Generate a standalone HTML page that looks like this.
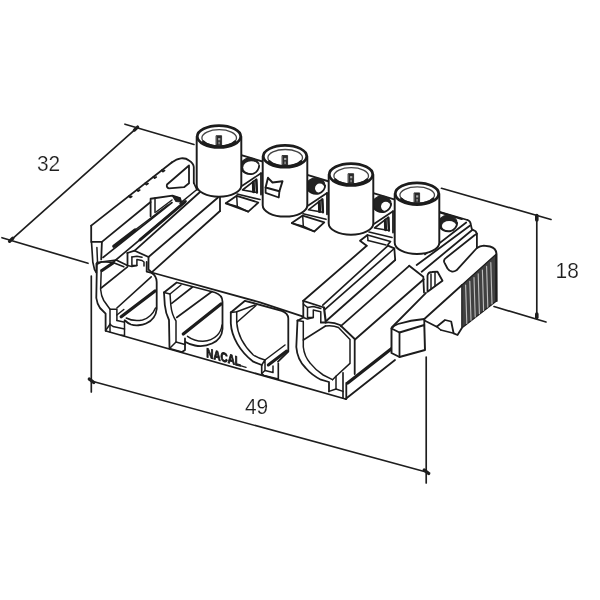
<!DOCTYPE html>
<html><head><meta charset="utf-8"><title>Connector drawing</title>
<style>
html,body{margin:0;padding:0;background:#fff;}
body{width:600px;height:600px;overflow:hidden;font-family:"Liberation Sans",sans-serif;}
svg{display:block;filter:grayscale(1);}
text{font-family:"Liberation Sans",sans-serif;fill:#1e1e1e;}
.dim{stroke:#fff;stroke-width:0.2px;opacity:0.999;}
</style></head><body>
<svg width="600" height="600" viewBox="0 0 600 600" stroke-linecap="round" stroke-linejoin="round">
<rect width="600" height="600" fill="#fff"/>
<path d="M11.2,239.8 L136.0,128.6" stroke="#1e1e1e" stroke-width="1.68" fill="none" />
<path d="M125.0,124.2 L194.0,144.5" stroke="#1e1e1e" stroke-width="1.68" fill="none" />
<path d="M2.0,237.7 L88.0,263.3" stroke="#1e1e1e" stroke-width="1.68" fill="none" />
<path d="M91.3,276.0 L91.3,392.0" stroke="#1e1e1e" stroke-width="1.68" fill="none" />
<path d="M91.3,381.0 L426.2,472.0" stroke="#1e1e1e" stroke-width="1.68" fill="none" />
<path d="M426.2,357.0 L426.2,483.0" stroke="#1e1e1e" stroke-width="1.68" fill="none" />
<path d="M536.8,216.0 L536.8,318.0" stroke="#1e1e1e" stroke-width="1.68" fill="none" />
<path d="M441.5,188.3 L551.0,219.5" stroke="#1e1e1e" stroke-width="1.68" fill="none" />
<path d="M494.0,306.5 L546.0,322.0" stroke="#1e1e1e" stroke-width="1.68" fill="none" />
<path d="M9.6,241.3 L12.8,238.3" stroke="#1e1e1e" stroke-width="3.30" fill="none" />
<path d="M134.4,130.1 L137.6,127.1" stroke="#1e1e1e" stroke-width="3.30" fill="none" />
<path d="M89.3,379.0 L93.8,382.5" stroke="#1e1e1e" stroke-width="3.30" fill="none" />
<path d="M424.2,470.0 L428.7,473.5" stroke="#1e1e1e" stroke-width="3.30" fill="none" />
<path d="M536.8,215.5 L536.8,220.0" stroke="#1e1e1e" stroke-width="3.60" fill="none" />
<path d="M536.8,317.5 L536.8,314.0" stroke="#1e1e1e" stroke-width="3.60" fill="none" />
<path d="M151.7,272.5 L260.0,302.3 L303.3,316.7" stroke="#1c1c1c" stroke-width="1.80" fill="none" />
<path d="M106.0,331.0 L345.5,399.0" stroke="#1c1c1c" stroke-width="1.80" fill="none" />
<path d="M96.9,264.3 L96.3,298 C97,303 98.5,306 100,308 L105.6,313.6 L105.6,330.8" stroke="#1c1c1c" stroke-width="1.80" fill="none" />
<path d="M101.25,270 L100.6,289.3 C101,294 102,297.5 103.75,300.5 L110,309.3 L110,324.3" stroke="#1c1c1c" stroke-width="1.50" fill="none" />
<path d="M96.9,264.3 L101.9,261.8 L113.0,262.4 L123.8,266.8" stroke="#1c1c1c" stroke-width="1.65" fill="none" />
<path d="M110.0,309.3 L116.9,309.3 L116.9,320.5" stroke="#1c1c1c" stroke-width="1.50" fill="none" />
<path d="M110.0,324.3 L113.0,326.5 L124.5,329.0 L124.5,320.3" stroke="#1c1c1c" stroke-width="1.50" fill="none" />
<path d="M124.5,329.0 L124.5,335.5 L121.0,335.2" stroke="#1c1c1c" stroke-width="1.50" fill="none" />
<path d="M110.0,324.3 L110.0,332.0" stroke="#1c1c1c" stroke-width="1.50" fill="none" />
<path d="M105.6,330.5 L110.0,324.3" stroke="#1c1c1c" stroke-width="1.50" fill="none" />
<path d="M116.9,320.5 L123.8,322.0" stroke="#1c1c1c" stroke-width="1.50" fill="none" />
<path d="M146.7,262 L146.7,271.7 L151.7,273 C155,275 156.7,278 156.7,282 L156.7,309 C156,316 152,321 146,323.5 C142,325.5 135,325.8 131,324.5 C128.5,323.5 126.5,322 125,320.5" stroke="#1c1c1c" stroke-width="1.80" fill="none" />
<path d="M126.25,318 C130,320 136,321 142.5,319.9 C148,318.5 152.5,315 155.5,308" stroke="#1c1c1c" stroke-width="1.50" fill="none" />
<path d="M101.2,288.0 L127.5,266.8" stroke="#1c1c1c" stroke-width="1.65" fill="none" />
<path d="M101.9,270.5 L113.0,263.0" stroke="#1c1c1c" stroke-width="3.30" fill="none" />
<path d="M116.9,308.0 L151.2,276.8" stroke="#1c1c1c" stroke-width="1.65" fill="none" />
<path d="M121.2,316.8 L155.0,291.0" stroke="#1c1c1c" stroke-width="3.30" fill="none" />
<path d="M116.9,315.0 L123.8,309.5" stroke="#1c1c1c" stroke-width="1.50" fill="none" />
<path d="M164,292.5 L176.7,282.5 L215,292.5 C219.5,294 222.5,297 222.5,301.7 L222.5,329 C222,336 218,341 212,343.5 C207,345.8 200,346.5 195,345.5 C191,344.8 188,343.5 185.5,342" stroke="#1c1c1c" stroke-width="1.80" fill="none" />
<path d="M164,292.5 L164.8,305 C165.5,312 167.5,317 169,320 L169.5,348.5 L182,352 L185,350 L185,338.5" stroke="#1c1c1c" stroke-width="1.80" fill="none" />
<path d="M170,294 L170.8,305 C171.5,312 174,318 176,321 L176,342" stroke="#1c1c1c" stroke-width="1.50" fill="none" />
<path d="M164.0,292.5 L170.0,294.0 L181.0,285.0" stroke="#1c1c1c" stroke-width="1.50" fill="none" />
<path d="M169.5,348.5 L176.0,342.0 L185.0,344.5" stroke="#1c1c1c" stroke-width="1.50" fill="none" />
<path d="M187.5,336.3 C192,339.5 198,341.3 203,341.2 C209,341 214,338.5 217,335.5 C220,332.5 221.5,329 222,325" stroke="#1c1c1c" stroke-width="1.50" fill="none" />
<path d="M171.7,303.3 L192.5,287.0" stroke="#1c1c1c" stroke-width="1.65" fill="none" />
<path d="M176.7,317.5 L212.0,291.5" stroke="#1c1c1c" stroke-width="1.65" fill="none" />
<path d="M183.3,334.0 L221.0,304.0" stroke="#1c1c1c" stroke-width="3.30" fill="none" />
<path d="M230.8,312.5 L245,300.8 L281.7,310.8 C286,312.5 288.3,315 288.3,318.3 L288.3,351.7 L278,361.7" stroke="#1c1c1c" stroke-width="1.80" fill="none" />
<path d="M230.8,312.5 L230.8,323.3 C231.5,337 240,351.7 253.3,361.7 L261.7,365" stroke="#1c1c1c" stroke-width="1.80" fill="none" />
<path d="M236.7,311.7 L236.7,322.5 C237.5,334 244,346 253.3,355 C257,357.5 261,359 265,360" stroke="#1c1c1c" stroke-width="1.50" fill="none" />
<path d="M230.8,312.5 L236.7,311.7 L255.0,305.0" stroke="#1c1c1c" stroke-width="1.50" fill="none" />
<path d="M236.7,322.5 L256.0,305.5" stroke="#1c1c1c" stroke-width="1.50" fill="none" />
<path d="M265.0,360.0 L285.0,345.0" stroke="#1c1c1c" stroke-width="1.50" fill="none" />
<path d="M268.3,365.0 L286.7,351.0" stroke="#1c1c1c" stroke-width="3.00" fill="none" />
<path d="M261.7,365.0 L261.7,373.5 L264.0,375.5 L278.3,379.0 L278.3,363.3" stroke="#1c1c1c" stroke-width="1.65" fill="none" />
<path d="M261.7,365.0 L265.0,360.0 L265.0,370.5 L273.0,372.5 L273.0,366.0" stroke="#1c1c1c" stroke-width="1.50" fill="none" />
<path d="M261.7,373.5 L265.0,370.5" stroke="#1c1c1c" stroke-width="1.50" fill="none" />
<path d="M297.5,320.5 L296.3,347 C297,356 300.5,363 305.7,368 C310,373 315.5,377 320.9,379.7 L329,382 L329,391.4" stroke="#1c1c1c" stroke-width="1.80" fill="none" />
<path d="M303.3,321.4 L303.3,347 C304,353.5 306.5,359 310.4,363.4 C314,368 318.5,372 323.2,375 L332.5,379.7" stroke="#1c1c1c" stroke-width="1.50" fill="none" />
<path d="M297.5,320.8 L303.3,317.5 L303.3,300.8" stroke="#1c1c1c" stroke-width="1.80" fill="none" />
<path d="M297.5,320.5 L303.3,321.4" stroke="#1c1c1c" stroke-width="1.50" fill="none" />
<path d="M303.3,300.8 L366.7,245.8" stroke="#1c1c1c" stroke-width="1.80" fill="none" />
<path d="M303.3,300.8 L324.0,307.5" stroke="#1c1c1c" stroke-width="1.80" fill="none" />
<path d="M322.8,305.2 L388.0,245.6" stroke="#1c1c1c" stroke-width="1.65" fill="none" />
<path d="M325.0,309.4 L394.3,248.5" stroke="#1c1c1c" stroke-width="1.65" fill="none" />
<path d="M388.0,245.6 L394.3,248.3 L395.2,260.0" stroke="#1c1c1c" stroke-width="1.80" fill="none" />
<path d="M326.7,320.5 L395.2,260.0" stroke="#1c1c1c" stroke-width="1.80" fill="none" />
<path d="M324.0,307.5 L325.8,322.5" stroke="#1c1c1c" stroke-width="2.10" fill="none" />
<path d="M307.5,307.5 L307.5,317.5 L313.3,317.5 L313.3,310.0 L320.8,311.7 L320.8,322.5" stroke="#1c1c1c" stroke-width="1.50" fill="none" />
<path d="M303.3,317.5 L307.5,319.0 L313.3,317.5" stroke="#1c1c1c" stroke-width="1.50" fill="none" />
<path d="M303.3,304.0 L307.5,307.5 L313.3,306.5 L320.8,308.5" stroke="#1c1c1c" stroke-width="1.50" fill="none" />
<path d="M320.8,322.5 L325.8,322.5 C332,322 336,323 340,325 L354.7,339 L354.7,374" stroke="#1c1c1c" stroke-width="1.80" fill="none" />
<path d="M325.5,326 C331,325.3 335,326 338.5,327.5 L350,339.5 L350,363.4 L336,376.2 L332.5,379.7" stroke="#1c1c1c" stroke-width="1.50" fill="none" />
<path d="M340.8,326.2 L409.2,265.8" stroke="#1c1c1c" stroke-width="1.80" fill="none" />
<path d="M355.0,339.5 L423.8,279.3" stroke="#1c1c1c" stroke-width="1.80" fill="none" />
<path d="M409.2,265.8 L423.3,276.7 L424.0,292.5" stroke="#1c1c1c" stroke-width="1.80" fill="none" />
<path d="M347.7,383.0 L392.0,348.2" stroke="#1c1c1c" stroke-width="3.30" fill="none" />
<path d="M345.5,399.0 L395.0,360.0" stroke="#1c1c1c" stroke-width="1.80" fill="none" />
<path d="M346.3,383.0 L346.3,399.0" stroke="#1c1c1c" stroke-width="1.80" fill="none" />
<path d="M343.0,372.7 L343.0,398.0" stroke="#1c1c1c" stroke-width="1.65" fill="none" />
<path d="M336.0,376.2 L336.0,389.0 L343.0,391.4" stroke="#1c1c1c" stroke-width="1.50" fill="none" />
<path d="M329.0,391.4 L336.0,389.0" stroke="#1c1c1c" stroke-width="1.50" fill="none" />
<path d="M303.3,340.0 L325.5,326.0" stroke="#1c1c1c" stroke-width="1.50" fill="none" />
<path d="M391.5,328.5 L399.5,332.5 L424.3,325.0 L425.0,350.0 L399.5,357.0 L391.5,353.0 Z" stroke="#1c1c1c" stroke-width="1.95" fill="white" />
<path d="M399.5,332.5 L399.5,357.0" stroke="#1c1c1c" stroke-width="1.80" fill="none" />
<path d="M391.5,328.5 C393,326.5 395,325 398,324 C406,321.5 416,319.6 424.3,319" stroke="#1c1c1c" stroke-width="1.80" fill="none" />
<path d="M391.7,327.5 L426.0,292.8" stroke="#1c1c1c" stroke-width="1.80" fill="none" />
<path d="M424.3,325.0 L424.3,319.0 L462.0,285.0" stroke="#1c1c1c" stroke-width="1.80" fill="none" />
<path d="M424.5,320.5 L436.7,326.7 L445.0,320.0 L451.2,321.5 L453.6,333.3 L457.5,335.0 L461.7,328.3" stroke="#1c1c1c" stroke-width="1.80" fill="none" />
<path d="M440.8,330.0 L453.6,333.3" stroke="#1c1c1c" stroke-width="1.50" fill="none" />
<path d="M436.7,326.7 L440.8,330.0" stroke="#1c1c1c" stroke-width="1.50" fill="none" />
<path d="M427.5,291.7 L427.5,275.5 C428,273 430,272 432,272 L437.5,271.7 L442.5,280.8 Z" stroke="#1c1c1c" stroke-width="1.80" fill="none" />
<path d="M431.0,274.0 L431.0,289.0" stroke="#1c1c1c" stroke-width="1.50" fill="none" />
<path d="M435.0,272.5 L435.0,286.3" stroke="#1c1c1c" stroke-width="1.50" fill="none" />
<path d="M446.5,257.5 L474.5,235.2 L476.9,233.8 L476.9,248 L456.5,270.3 C453,272.5 449.5,271.5 447.5,268.5 L444.3,262.3 C443.3,260 444.5,258.7 446.5,257.5 Z" stroke="#1c1c1c" stroke-width="1.80" fill="none" />
<path d="M461.8,285 L495.8,254.5 L495.8,301.5 L461.8,328 Z" stroke="#1c1c1c" stroke-width="1.20" fill="#404040" />
<path d="M465.6,285.1 L466.8,323.5" stroke="#bdbdbd" stroke-width="1.12" fill="none" />
<path d="M469.8,281.3 L471.0,320.3" stroke="#bdbdbd" stroke-width="1.12" fill="none" />
<path d="M474.0,277.6 L475.2,317.0" stroke="#bdbdbd" stroke-width="1.12" fill="none" />
<path d="M478.2,273.8 L479.4,313.7" stroke="#bdbdbd" stroke-width="1.12" fill="none" />
<path d="M482.4,270.0 L483.6,310.4" stroke="#bdbdbd" stroke-width="1.12" fill="none" />
<path d="M486.6,266.3 L487.8,307.2" stroke="#bdbdbd" stroke-width="1.12" fill="none" />
<path d="M490.8,262.5 L492.0,303.9" stroke="#bdbdbd" stroke-width="1.12" fill="none" />
<path d="M476.9,248 C479,246.5 481.5,245.7 483.75,245.6 L490,246.5 C494,247.5 496.3,250 496.5,254 L496.7,301" stroke="#1c1c1c" stroke-width="1.95" fill="none" />
<path d="M439.4,211.9 L467.5,220.0" stroke="#1c1c1c" stroke-width="1.80" fill="none" />
<path d="M467.5,220 C469.5,220.8 470.5,222 470.6,223.75 L471.9,229.4 L475.6,231.25 L476.9,233.75" stroke="#1c1c1c" stroke-width="1.80" fill="none" />
<path d="M466.2,222.5 L425.0,254.4" stroke="#1c1c1c" stroke-width="1.80" fill="none" />
<path d="M469.8,225.8 L416.7,265.0" stroke="#1c1c1c" stroke-width="1.80" fill="none" />
<path d="M472.5,229.8 L421.7,271.7" stroke="#1c1c1c" stroke-width="1.80" fill="none" />
<path d="M439.3,212.3 L461.8,219.1" stroke="#1c1c1c" stroke-width="1.95" fill="none" />
<ellipse cx="447.8" cy="223.0" rx="9.3" ry="7.6" fill="#222" stroke="#222" stroke-width="1.2"/>
<ellipse cx="449.1" cy="226.0" rx="7.2" ry="5.0" fill="#fff" stroke="none"/>
<path d="M438.5,224.0 C439.8,230.0 445.8,232.0 450.8,231.0 C454.8,230.0 457.1,226.0 457.1,223.0" stroke="#1c1c1c" stroke-width="1.80" fill="none" />
<path d="M91.2,225.6 L171.7,162.5" stroke="#1c1c1c" stroke-width="1.80" fill="none" />
<path d="M128.9,196.1 L130.2,197.4 L131.7,196.4" stroke="#1c1c1c" stroke-width="1.80" fill="none" />
<path d="M136.9,189.8 L138.2,191.1 L139.7,190.1" stroke="#1c1c1c" stroke-width="1.80" fill="none" />
<path d="M145.2,183.3 L146.5,184.6 L148.0,183.6" stroke="#1c1c1c" stroke-width="1.80" fill="none" />
<path d="M153.4,176.8 L154.7,178.1 L156.2,177.1" stroke="#1c1c1c" stroke-width="1.80" fill="none" />
<path d="M161.7,170.3 L163.0,171.6 L164.5,170.6" stroke="#1c1c1c" stroke-width="1.80" fill="none" />
<path d="M171.7,162.5 C175,160 178,158.6 181,158.3 C184,158 187,158.8 189,160.5 C191.5,162 193.5,164 193.8,167 L193.8,183" stroke="#1c1c1c" stroke-width="1.80" fill="none" />
<path d="M189,165.5 L167,184.5 C166.3,186.5 167.2,188 169,188.3 L184,187.2 L189,183.3 Z" stroke="#1c1c1c" stroke-width="1.80" fill="none" />
<path d="M193.8,183.0 L197.0,190.0" stroke="#1c1c1c" stroke-width="1.65" fill="none" />
<path d="M91.2,225.6 L91.2,241.9 L101.9,241.9 L101.2,259.4" stroke="#1c1c1c" stroke-width="1.80" fill="none" />
<path d="M91.5,242 L92.8,262 L94.5,269.5 L96.3,272.5" stroke="#1c1c1c" stroke-width="1.65" fill="none" />
<path d="M96.3,263.5 L96.3,272.5" stroke="#1c1c1c" stroke-width="1.50" fill="none" />
<path d="M96.9,247.5 L97.5,262.0" stroke="#1c1c1c" stroke-width="1.50" fill="none" />
<path d="M96.9,262.5 L116.2,260.0 L127.5,265.6" stroke="#1c1c1c" stroke-width="1.65" fill="none" />
<path d="M101.9,241.9 L150.6,202.0" stroke="#1c1c1c" stroke-width="1.80" fill="none" />
<path d="M103.0,257.5 L172.0,202.5" stroke="#1c1c1c" stroke-width="1.65" fill="none" />
<path d="M113.8,246.2 L135.0,230.0" stroke="#1c1c1c" stroke-width="3.30" fill="none" />
<path d="M135.0,230.0 L168.0,205.0" stroke="#1c1c1c" stroke-width="1.50" fill="none" />
<path d="M114.0,261.5 L186.0,201.0" stroke="#1c1c1c" stroke-width="1.65" fill="none" />
<path d="M140.0,239.8 L185.0,201.8" stroke="#1c1c1c" stroke-width="3.00" fill="none" />
<path d="M134.7,250.7 L200.0,192.0" stroke="#1c1c1c" stroke-width="1.80" fill="none" />
<path d="M148.5,257.0 L218.0,197.5" stroke="#1c1c1c" stroke-width="1.80" fill="none" />
<path d="M151.7,272.3 L220.0,211.0" stroke="#1c1c1c" stroke-width="1.80" fill="none" />
<path d="M220.0,196.7 L220.0,211.0" stroke="#1c1c1c" stroke-width="1.80" fill="none" />
<path d="M150.6,216.3 L150.6,198.75 L172.5,195.6 L180,198 L181,201.5" stroke="#1c1c1c" stroke-width="1.80" fill="none" />
<path d="M155.0,198.0 L155.0,212.5" stroke="#1c1c1c" stroke-width="1.50" fill="none" />
<path d="M172.0,200.0 L156.0,212.0" stroke="#1c1c1c" stroke-width="1.50" fill="none" />
<path d="M172.5,196 L180,198 L181,202 L176,201.5 Z" stroke="#1c1c1c" stroke-width="1.20" fill="#222" />
<path d="M127.3,253.0 L134.7,250.7 L148.5,257.0 L148.5,269.5 L151.7,272.5" stroke="#1c1c1c" stroke-width="1.80" fill="none" />
<path d="M127.5,253.0 L127.5,265.6" stroke="#1c1c1c" stroke-width="1.80" fill="none" />
<path d="M131.9,256.9 L131.9,265.6 L136.9,265.6 L136.9,259.4 L142.0,260.5 L144.0,262.0 L144.0,266.0" stroke="#1c1c1c" stroke-width="1.50" fill="none" />
<path d="M127.5,265.6 L131.9,266.5 L136.9,265.6" stroke="#1c1c1c" stroke-width="1.50" fill="none" />
<path d="M131.9,256.9 L136.9,256.2 L142.0,257.3" stroke="#1c1c1c" stroke-width="1.50" fill="none" />
<path d="M197.5,189.0 L180.0,203.3" stroke="#1c1c1c" stroke-width="1.50" fill="none" />
<path d="M241.3,155.1 L263.8,161.9" stroke="#1c1c1c" stroke-width="1.95" fill="none" />
<ellipse cx="249.8" cy="165.8" rx="9.3" ry="7.6" fill="#222" stroke="#222" stroke-width="1.2"/>
<ellipse cx="251.20000000000002" cy="167.4" rx="8.0" ry="6.2" fill="#fff" stroke="none"/>
<path d="M240.5,166.8 C241.8,172.8 247.8,174.8 252.8,173.8 C256.8,172.8 259.1,168.8 259.1,165.8" stroke="#1c1c1c" stroke-width="1.80" fill="none" />
<path d="M241.5,186.2 L261.0,173.2" stroke="#1c1c1c" stroke-width="1.65" fill="none" />
<path d="M242.5,190.0 L256.2,179.4 L256.9,192.5 Z" stroke="#1c1c1c" stroke-width="1.65" fill="none" />
<path d="M253.3,182.0 L253.6,191.8" stroke="#1c1c1c" stroke-width="3.00" fill="none" />
<path d="M256.4,179.7 L256.9,192.5" stroke="#1c1c1c" stroke-width="2.40" fill="none" />
<path d="M261.0,173.2 L261.0,194.5" stroke="#1c1c1c" stroke-width="1.80" fill="none" />
<path d="M237.0,194.0 L260.0,199.5" stroke="#1c1c1c" stroke-width="1.65" fill="none" />
<path d="M225.8,203.3 L236.7,195.8 L258.3,202.5 L248.3,211.7 Z" stroke="#1c1c1c" stroke-width="1.80" fill="none" />
<path d="M236.7,195.8 L237.3,206.5" stroke="#1c1c1c" stroke-width="1.50" fill="none" />
<path d="M237.3,206.5 L248.3,211.7" stroke="#1c1c1c" stroke-width="1.50" fill="none" />
<path d="M225.8,203.3 L237.3,206.5" stroke="#1c1c1c" stroke-width="1.50" fill="none" />
<path d="M307.3,174.9 L329.8,181.7" stroke="#1c1c1c" stroke-width="1.95" fill="none" />
<ellipse cx="315.8" cy="185.60000000000002" rx="9.3" ry="7.6" fill="#222" stroke="#222" stroke-width="1.2"/>
<ellipse cx="319.8" cy="188.20000000000002" rx="4.8" ry="4.6" fill="#fff" stroke="none"/>
<path d="M306.5,186.60000000000002 C307.8,192.60000000000002 313.8,194.60000000000002 318.8,193.60000000000002 C322.8,192.60000000000002 325.1,188.60000000000002 325.1,185.60000000000002" stroke="#1c1c1c" stroke-width="1.80" fill="none" />
<path d="M307.5,206.0 L327.0,193.0" stroke="#1c1c1c" stroke-width="1.65" fill="none" />
<path d="M308.5,209.8 L322.2,199.2 L322.9,212.3 Z" stroke="#1c1c1c" stroke-width="1.65" fill="none" />
<path d="M319.3,201.8 L319.6,211.6" stroke="#1c1c1c" stroke-width="3.00" fill="none" />
<path d="M322.4,199.5 L322.9,212.3" stroke="#1c1c1c" stroke-width="2.40" fill="none" />
<path d="M327.0,193.0 L327.0,214.3" stroke="#1c1c1c" stroke-width="1.80" fill="none" />
<path d="M303.0,213.8 L326.0,219.3" stroke="#1c1c1c" stroke-width="1.65" fill="none" />
<path d="M291.8,223.1 L302.7,215.6 L324.3,222.3 L314.3,231.5 Z" stroke="#1c1c1c" stroke-width="1.80" fill="none" />
<path d="M302.7,215.6 L303.3,226.3" stroke="#1c1c1c" stroke-width="1.50" fill="none" />
<path d="M303.3,226.3 L314.3,231.5" stroke="#1c1c1c" stroke-width="1.50" fill="none" />
<path d="M291.8,223.1 L303.3,226.3" stroke="#1c1c1c" stroke-width="1.50" fill="none" />
<path d="M373.3,193.1 L395.8,199.9" stroke="#1c1c1c" stroke-width="1.95" fill="none" />
<ellipse cx="381.8" cy="203.8" rx="9.3" ry="7.6" fill="#222" stroke="#222" stroke-width="1.2"/>
<ellipse cx="385.8" cy="206.4" rx="4.8" ry="4.6" fill="#fff" stroke="none"/>
<path d="M372.5,204.8 C373.8,210.8 379.8,212.8 384.8,211.8 C388.8,210.8 391.1,206.8 391.1,203.8" stroke="#1c1c1c" stroke-width="1.80" fill="none" />
<path d="M373.5,224.2 L393.0,211.2" stroke="#1c1c1c" stroke-width="1.65" fill="none" />
<path d="M374.5,228.0 L388.2,217.4 L388.9,230.5 Z" stroke="#1c1c1c" stroke-width="1.65" fill="none" />
<path d="M385.3,220.0 L385.6,229.8" stroke="#1c1c1c" stroke-width="3.00" fill="none" />
<path d="M388.4,217.7 L388.9,230.5" stroke="#1c1c1c" stroke-width="2.40" fill="none" />
<path d="M393.0,211.2 L393.0,232.5" stroke="#1c1c1c" stroke-width="1.80" fill="none" />
<path d="M369.0,232.0 L392.0,237.5" stroke="#1c1c1c" stroke-width="1.65" fill="none" />
<path d="M366.7,245.8 L360.0,240.8 L367.5,235.0 L390.5,241.5 L388.0,244.5" stroke="#1c1c1c" stroke-width="1.80" fill="none" />
<path d="M367.5,235.0 L368.0,240.5" stroke="#1c1c1c" stroke-width="1.50" fill="none" />
<path d="M368.0,240.5 L386.0,245.0" stroke="#1c1c1c" stroke-width="1.50" fill="none" />
<path d="M196.7,136.5 L196.7,185.5 A22.3,11.3 0 0 0 241.3,185.5 L241.3,136.5 Z" stroke="#1c1c1c" stroke-width="1.95" fill="white" />
<ellipse cx="219" cy="136.5" rx="21.7" ry="10.9" fill="white" stroke="#1c1c1c" stroke-width="2.7"/>
<ellipse cx="219.2" cy="137.9" rx="17.3" ry="8.200000000000001" fill="white" stroke="#444" stroke-width="1.3"/>
<path d="M203.4,141.7 A17.3,8.200000000000001 0 0 0 235,141.7" fill="none" stroke="#1c1c1c" stroke-width="2.6"/>
<rect x="216.4" y="135.7" width="5.2" height="9.4" fill="#2a2a2a" stroke="#222" stroke-width="0.8"/>
<rect x="218.1" y="138.1" width="2.2" height="2.2" fill="#aaa"/>
<rect x="218.3" y="141.7" width="1.6" height="2.6" fill="#888"/>
<path d="M262.7,156.3 L262.7,205.3 A22.3,11.3 0 0 0 307.3,205.3 L307.3,156.3 Z" stroke="#1c1c1c" stroke-width="1.95" fill="white" />
<ellipse cx="285" cy="156.3" rx="21.7" ry="10.9" fill="white" stroke="#1c1c1c" stroke-width="2.7"/>
<ellipse cx="285.2" cy="157.70000000000002" rx="17.3" ry="8.200000000000001" fill="white" stroke="#444" stroke-width="1.3"/>
<path d="M269.4,161.5 A17.3,8.200000000000001 0 0 0 301,161.5" fill="none" stroke="#1c1c1c" stroke-width="2.6"/>
<rect x="282.4" y="155.5" width="5.2" height="9.4" fill="#2a2a2a" stroke="#222" stroke-width="0.8"/>
<rect x="284.1" y="157.9" width="2.2" height="2.2" fill="#aaa"/>
<rect x="284.3" y="161.5" width="1.6" height="2.6" fill="#888"/>
<path d="M328.7,174.5 L328.7,223.5 A22.3,11.3 0 0 0 373.3,223.5 L373.3,174.5 Z" stroke="#1c1c1c" stroke-width="1.95" fill="white" />
<ellipse cx="351" cy="174.5" rx="21.7" ry="10.9" fill="white" stroke="#1c1c1c" stroke-width="2.7"/>
<ellipse cx="351.2" cy="175.9" rx="17.3" ry="8.200000000000001" fill="white" stroke="#444" stroke-width="1.3"/>
<path d="M335.4,179.7 A17.3,8.200000000000001 0 0 0 367,179.7" fill="none" stroke="#1c1c1c" stroke-width="2.6"/>
<rect x="348.4" y="173.7" width="5.2" height="9.4" fill="#2a2a2a" stroke="#222" stroke-width="0.8"/>
<rect x="350.1" y="176.1" width="2.2" height="2.2" fill="#aaa"/>
<rect x="350.3" y="179.7" width="1.6" height="2.6" fill="#888"/>
<path d="M394.7,193.7 L394.7,242.7 A22.3,11.3 0 0 0 439.3,242.7 L439.3,193.7 Z" stroke="#1c1c1c" stroke-width="1.95" fill="white" />
<ellipse cx="417" cy="193.7" rx="21.7" ry="10.9" fill="white" stroke="#1c1c1c" stroke-width="2.7"/>
<ellipse cx="417.2" cy="195.1" rx="17.3" ry="8.200000000000001" fill="white" stroke="#444" stroke-width="1.3"/>
<path d="M401.4,198.89999999999998 A17.3,8.200000000000001 0 0 0 433,198.89999999999998" fill="none" stroke="#1c1c1c" stroke-width="2.6"/>
<rect x="414.4" y="192.89999999999998" width="5.2" height="9.4" fill="#2a2a2a" stroke="#222" stroke-width="0.8"/>
<rect x="416.1" y="195.29999999999998" width="2.2" height="2.2" fill="#aaa"/>
<rect x="416.3" y="198.89999999999998" width="1.6" height="2.6" fill="#888"/>
<path d="M268.0,177.8 L272.5,182.5 L282.5,181.3 L279.4,191.3 L265.6,187.5 L268.0,177.8" stroke="#1c1c1c" stroke-width="1.95" fill="white" />
<path d="M279.4,191.3 L278.8,197.5 L265.6,192.8 L265.6,187.5" stroke="#1c1c1c" stroke-width="1.80" fill="none" />
<text transform="matrix(0.76,0.205,0,1,206.3,357.0)" font-size="13" font-weight="bold" style="fill:#1a1a1a;stroke:#1a1a1a;stroke-width:1.0px">NACAL</text>
<path d="M237,364.6 L246,367.4" stroke="#222" stroke-width="1.4"/>
<text class="dim" transform="translate(37,170.6) scale(0.95,1)" font-size="22">32</text>
<text class="dim" transform="translate(245,414.3) scale(0.95,1)" font-size="22">49</text>
<text class="dim" transform="translate(555.6,278.1) scale(0.95,1)" font-size="22">18</text>
</svg>
</body></html>
